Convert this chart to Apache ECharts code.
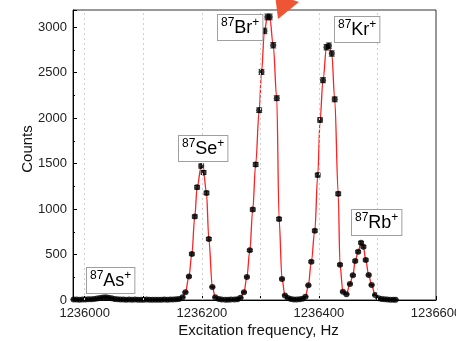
<!DOCTYPE html>
<html>
<head>
<meta charset="utf-8">
<script src="https://cdn.jsdelivr.net/npm/echarts@6/dist/echarts.min.js"></script>
<style>
html,body{margin:0;padding:0;background:#fff;}
#c{width:456px;height:341px;}
</style>
</head>
<body>
<div id="c"></div>
<script>
// Excitation frequencies (Hz)
const freqs = [
  1235981,1235986,1235991,1235996,1236001,1236006,1236011,1236016,1236021,1236026,
  1236031,1236036,1236041,1236046,1236051,1236056,1236061,1236066,1236071,1236076,
  1236081,1236086,1236091,1236096,1236101,1236106,1236111,1236116,1236121,1236126,
  1236131,1236136,1236141,1236146,1236151,1236156,1236161,1236167,
  1236172,1236178,1236183,1236188,1236192,1236199,1236203,1236208,1236212,1236218,
  1236223,1236229,1236234,1236240,1236245,1236250,1236256,1236261,1236266,
  1236272,1236277,1236282,1236287,1236292,1236298,1236302,1236307,1236312,1236316,
  1236322,1236328,1236332,1236337,1236342,
  1236347,1236352,1236357,1236362,1236367,1236372,
  1236377,1236382,1236387,1236393,1236398,1236402,1236407,1236413,1236417,1236422,
  1236427,1236433,1236436,1236441,1236447,
  1236453,1236458,1236462,1236467,1236472,1236476,1236480,1236485,1236490,1236496,1236502,
  1236507,1236512,1236517,1236522,1236527,1236531
];
// Counts
const counts = [
  5,6,4,6,5,7,9,12,16,22,
  28,30,26,18,12,8,6,5,4,5,
  4,5,3,4,4,5,3,4,4,3,
  4,5,4,6,5,7,11,30,
  84,258,506,918,1240,1473,1402,1178,672,143,
  30,10,6,4,4,5,6,9,25,
  84,253,546,995,1491,2088,2509,2960,3114,3114,
  2802,2220,890,231,50,
  22,10,6,5,7,14,
  36,161,421,762,1374,1980,2418,2780,2798,2711,
  2207,1168,388,91,63,
  176,271,429,531,630,586,440,275,165,55,18,
  10,7,6,4,3,3
];
// Error bar half-heights (counts)
const errs = [
  3,3,3,3,3,3,3,3,4,4,
  4,4,4,4,3,3,3,3,3,3,
  3,3,3,3,3,3,3,3,3,3,
  3,3,3,3,3,3,3,4,
  6,9,13,18,21,23,22,20,15,7,
  4,3,3,3,3,3,3,3,4,
  6,9,13,18,22,26,28,31,32,32,
  30,27,18,9,5,
  4,3,3,3,3,3,
  4,7,12,16,21,25,28,30,30,30,
  27,20,11,6,5,
  8,9,12,13,14,14,12,9,7,5,3,
  3,3,3,3,3,3
];
// Axis ticks / labels
const xLabelVals = [1236000,1236200,1236400,1236600];
const xTickVals = [1236000,1236100,1236200,1236300,1236400,1236500,1236600];
const xGridVals = [1236000,1236100,1236200,1236300,1236400,1236500];
// Peak annotations
const peakNames = ['As','Se','Br','Kr','Rb'];

const FONT = '"Liberation Sans", Arial, Helvetica, sans-serif';
const chart = echarts.init(document.getElementById('c'), null, {renderer:'canvas'});

const pts = freqs.map((f,i)=>[f, counts[i], errs[i]]);

function labelEl(name, left, top){
  return {
    type:'text', left:left, top:top, z:100,
    style:{
      text:'{s|87}{b|'+name+'}{s|+}',
      rich:{
        s:{fontSize:12, fontFamily:FONT, fill:'#000', verticalAlign:'top', lineHeight:22},
        b:{fontSize:18, fontFamily:FONT, fill:'#000', lineHeight:22}
      },
      backgroundColor:'#fff', borderColor:'#a0a0a0', borderWidth:1,
      padding:[2,3,1,3]
    }
  };
}
const labelPos = [[86,267],[178,135],[217,14],[334,16],[351,209]];

const option = {
  animation:false,
  grid:{left:73, right:20, top:10, bottom:41, show:true, borderColor:'#333', borderWidth:1,
    backgroundColor:'transparent', containLabel:false, outerBoundsMode:'none'},
  xAxis:{
    type:'value', min:1235980, max:1236600,
    name:'Excitation frequency, Hz', nameLocation:'middle', nameGap:23, nameMoveOverlap:false,
    nameTextStyle:{fontFamily:FONT, fontSize:15, color:'#111', padding:[0,0,0,8]},
    axisLine:{show:true, onZero:false, lineStyle:{color:'#000', width:1}},
    axisTick:{show:true, inside:true, length:4, customValues:xTickVals, lineStyle:{color:'#000'}},
    axisLabel:{customValues:xLabelVals, fontFamily:FONT, fontSize:13, color:'#222', margin:7,
      formatter:v=>String(v), hideOverlap:false},
    splitLine:{show:false}
  },
  yAxis:{
    type:'value', min:0, max:3190, interval:500,
    name:'Counts', nameLocation:'middle', nameGap:38, nameMoveOverlap:false,
    nameTextStyle:{fontFamily:FONT, fontSize:15, color:'#111', padding:[0,0,0,12]},
    axisLine:{show:true, lineStyle:{color:'#000', width:1}},
    axisTick:{show:true, inside:true, length:4, lineStyle:{color:'#000'}},
    minorTick:{show:true, splitNumber:2, length:2, lineStyle:{color:'#000'}},
    axisLabel:{fontFamily:FONT, fontSize:13, color:'#222', margin:6,
      formatter:v=> (v%500===0 ? String(v) : '')},
    splitLine:{show:false}
  },
  graphic:[
    {type:'polygon', z:100, shape:{points:[[275,-6],[299,2],[278,19]]}, style:{fill:'#ee5535'}}
  ].concat(peakNames.map((n,i)=>labelEl(n, labelPos[i][0], labelPos[i][1]))),
  series:[
    {
      type:'line', data:freqs.map((f,i)=>[f,counts[i]]),
      showSymbol:false, smooth:0.35, smoothMonotone:'x',
      lineStyle:{color:'#ff2020', width:1.3}, z:2,
      markLine:{silent:true, symbol:['none','none'], label:{show:false},
        lineStyle:{type:[2,3], color:'#cfcfcf', width:1},
        data:xGridVals.map(v=>({xAxis:v}))}
    },
    {
      type:'custom', z:3,
      data:pts,
      renderItem:function(params, api){
        const x=api.value(0), y=api.value(1), e=api.value(2);
        const a=api.coord([x,y+e]), b=api.coord([x,y-e]);
        const st={stroke:'#222', lineWidth:0.8};
        return {type:'group', children:[
          {type:'line', shape:{x1:a[0],y1:a[1],x2:b[0],y2:b[1]}, style:st},
          {type:'line', shape:{x1:a[0]-3,y1:a[1],x2:a[0]+3,y2:a[1]}, style:st},
          {type:'line', shape:{x1:b[0]-3,y1:b[1],x2:b[0]+3,y2:b[1]}, style:st}
        ]};
      }
    },
    {
      type:'scatter', z:4, data:freqs.map((f,i)=>[f,counts[i]]),
      symbol:'circle', symbolSize:6, itemStyle:{color:'#000'}
    }
  ]
};
chart.setOption(option);
</script>
</body>
</html>
